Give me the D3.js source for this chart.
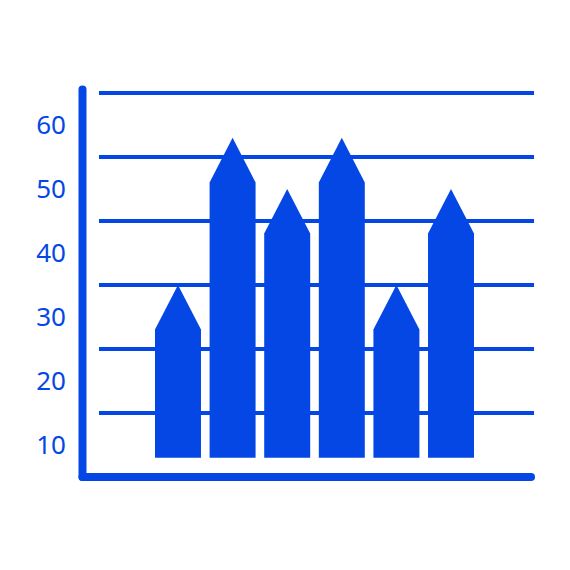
<!DOCTYPE html>
<html>
<head>
<meta charset="utf-8">
<script src="https://cdn.jsdelivr.net/npm/d3@7"></script>
<style>
  html, body { margin: 0; padding: 0; background: #ffffff; }
  svg { display: block; }
</style>
</head>
<body>
<svg id="chart" width="570" height="570"></svg>
<script>
// Data
const categories = ["A", "B", "C", "D", "E", "F"];
const values = [35, 58, 50, 58, 35, 50];   // arrow tip values
const baseValue = 8;                         // bars start here
const tickLabels = [10, 20, 30, 40, 50, 60];
const gridValues = [15, 25, 35, 45, 55, 65];

const blue = "#0447E5";
const svg = d3.select("#chart");

const y = d3.scaleLinear().domain([0, 65]).range([509, 509 - 6.4 * 65]);
const x = d3.scaleBand().domain(categories).range([155, 474]).paddingInner(0.158).paddingOuter(0);

// gridlines
svg.append("g").selectAll("line").data(gridValues).join("line")
  .attr("x1", 99).attr("x2", 534)
  .attr("y1", d => y(d)).attr("y2", d => y(d))
  .attr("stroke", blue).attr("stroke-width", 4.2);

// axes
svg.append("line").attr("x1", 82.5).attr("x2", 82.5)
  .attr("y1", y(65) - 3.5).attr("y2", 477)
  .attr("stroke", blue).attr("stroke-width", 8).attr("stroke-linecap", "round");
svg.append("line").attr("x1", 82.5).attr("x2", 531)
  .attr("y1", 477).attr("y2", 477)
  .attr("stroke", blue).attr("stroke-width", 8).attr("stroke-linecap", "round");

// tick labels
svg.append("g").selectAll("text").data(tickLabels).join("text")
  .attr("x", 66).attr("y", d => y(d) - 1)
  .attr("text-anchor", "end").attr("dominant-baseline", "central")
  .attr("font-family", "'Noto Sans', 'Open Sans', sans-serif")
  .attr("font-size", 26).attr("fill", blue)
  .text(d => d);

// arrow bars
const bw = x.bandwidth();
const head = bw * 0.97;
svg.append("g").selectAll("path").data(values).join("path")
  .attr("d", (d, i) => {
    const x0 = x(categories[i]), x1 = x0 + bw, xc = x0 + bw / 2;
    const tip = y(d), sh = tip + head, b = y(baseValue);
    return `M${x0},${b}L${x0},${sh}L${xc},${tip}L${x1},${sh}L${x1},${b}Z`;
  })
  .attr("fill", blue);
</script>
</body>
</html>
